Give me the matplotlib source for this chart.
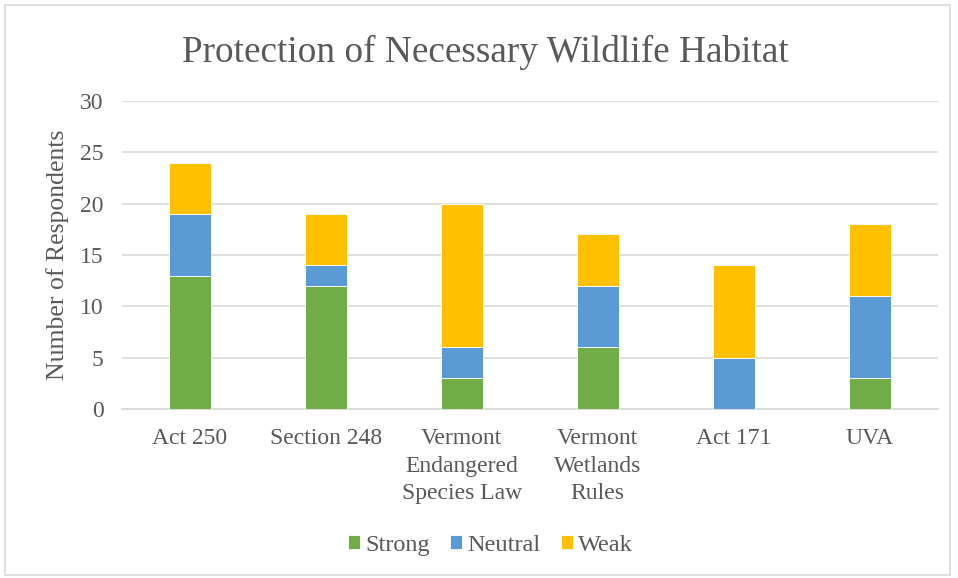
import matplotlib
matplotlib.use("Agg")
import matplotlib.pyplot as plt
from matplotlib.patches import Rectangle
import numpy as np

categories = ["Act 250", "Section 248", "Vermont\nEndangered\nSpecies Law",
              "Vermont\nWetlands\nRules", "Act 171", "UVA"]
strong = [13, 12, 3, 6, 0, 3]
neutral = [6, 2, 3, 6, 5, 8]
weak = [5, 5, 14, 5, 9, 7]

plt.rcParams['font.family'] = ['Liberation Serif', 'DejaVu Serif']
text_color = "#595959"

fig = plt.figure(figsize=(9.58, 5.78), dpi=100)
ax = fig.add_axes([0.127, 0.2924, 0.852, 0.5329])

x = np.arange(len(categories))
w = 0.31
s = np.array(strong); n = np.array(neutral); k = np.array(weak)
ax.bar(x, s, w, color="#70AD47", edgecolor="white", linewidth=0.6, label="Strong", zorder=3)
ax.bar(x, n, w, bottom=s, color="#5B9BD5", edgecolor="white", linewidth=0.6, label="Neutral", zorder=3)
ax.bar(x, k, w, bottom=s + n, color="#FFC000", edgecolor="white", linewidth=0.6, label="Weak", zorder=3)

ax.set_xlim(-0.5, len(categories) - 0.5)
ax.set_ylim(0, 30)
ax.set_yticks(range(0, 31, 5))
ax.yaxis.grid(True, color="#d9d9d9", linewidth=1.2, zorder=0)
for sp in ["top", "right", "left"]:
    ax.spines[sp].set_visible(False)
ax.spines["bottom"].set_color("#d9d9d9")
ax.spines["bottom"].set_linewidth(1.2)
ax.tick_params(axis="both", length=0, colors=text_color, labelsize=17)
ax.tick_params(axis="y", pad=13)
ax.tick_params(axis="x", pad=14)
ax.set_xticks(x)
ax.set_xticklabels(categories, linespacing=1.4, va="top")
ax.set_ylabel("Number of Respondents", fontsize=18.5, color=text_color, labelpad=8)

fig.text(0.5065, 0.91, "Protection of Necessary Wildlife Habitat", ha="center", va="center",
         fontsize=26.8, color=text_color)

leg = fig.legend(loc="center", bbox_to_anchor=(0.512, 0.057), ncol=3, frameon=False,
                 fontsize=17.5, handlelength=0.48, handleheight=0.48, handletextpad=0.22,
                 columnspacing=0.85)
for t in leg.get_texts():
    t.set_color(text_color)

fig.patches.append(Rectangle((5 / 958, 3 / 578), 945 / 958, 570 / 578, transform=fig.transFigure,
                             fill=False, edgecolor="#d9d9d9", linewidth=1.2))

fig.savefig("out.png", dpi=100)
